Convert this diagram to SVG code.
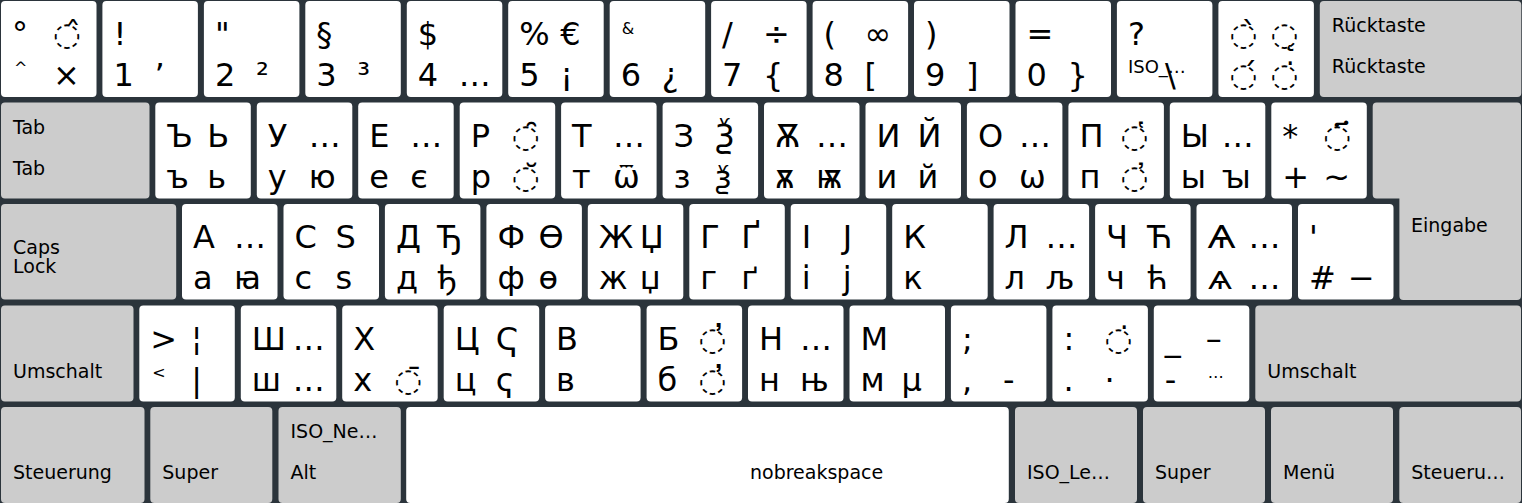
<svg xmlns="http://www.w3.org/2000/svg" width="1522" height="503" viewBox="0 0 1522 503">
<style>
.k{fill:#ffffff}
.m{fill:#cccccc}
text{font-family:"DejaVu Sans","Noto Sans",sans-serif;fill:#000000}
.g{font-size:32px}
.l{font-size:19px}
.t{font-size:16px}
.u{font-size:18px}
</style>
<rect x="0" y="0" width="1522" height="503" fill="#2b343b"/>
<g id="row1">
<g id="k-tlde" transform="translate(1,1)"><rect class="k" width="95.5" height="96" rx="4"/><text class="g" x="11" y="44">°</text><text class="g" x="52" y="44">&#x25CC;&#x302;</text><text class="t" x="13" y="72">^</text><text class="g" x="52" y="85">×</text></g>
<g id="k-1" transform="translate(102.4,1)"><rect class="k" width="95.5" height="96" rx="4"/><text class="g" x="11" y="44">!</text><text class="g" x="11" y="85">1</text><text class="g" x="52" y="85">’</text></g>
<g id="k-2" transform="translate(203.9,1)"><rect class="k" width="95.5" height="96" rx="4"/><text class="g" x="11" y="44">"</text><text class="g" x="11" y="85">2</text><text class="g" x="52" y="85">²</text></g>
<g id="k-3" transform="translate(305.3,1)"><rect class="k" width="95.5" height="96" rx="4"/><text class="g" x="11" y="44">§</text><text class="g" x="11" y="85">3</text><text class="g" x="52" y="85">³</text></g>
<g id="k-4" transform="translate(406.8,1)"><rect class="k" width="95.5" height="96" rx="4"/><text class="g" x="11" y="44">$</text><text class="g" x="11" y="85">4</text><text class="g" x="52" y="85">…</text></g>
<g id="k-5" transform="translate(508.2,1)"><rect class="k" width="95.5" height="96" rx="4"/><text class="g" x="11" y="44">%</text><text class="g" x="52" y="44">€</text><text class="g" x="11" y="85">5</text><text class="g" x="52" y="85">¡</text></g>
<g id="k-6" transform="translate(609.7,1)"><rect class="k" width="95.5" height="96" rx="4"/><text class="t" x="12" y="33">&amp;</text><text class="g" x="11" y="85">6</text><text class="g" x="52" y="85">¿</text></g>
<g id="k-7" transform="translate(711.1,1)"><rect class="k" width="95.5" height="96" rx="4"/><text class="g" x="11" y="44">/</text><text class="g" x="52" y="44">÷</text><text class="g" x="11" y="85">7</text><text class="g" x="52" y="85">{</text></g>
<g id="k-8" transform="translate(812.6,1)"><rect class="k" width="95.5" height="96" rx="4"/><text class="g" x="11" y="44">(</text><text class="g" x="52" y="44">∞</text><text class="g" x="11" y="85">8</text><text class="g" x="52" y="85">[</text></g>
<g id="k-9" transform="translate(914,1)"><rect class="k" width="95.5" height="96" rx="4"/><text class="g" x="11" y="44">)</text><text class="g" x="11" y="85">9</text><text class="g" x="52" y="85">]</text></g>
<g id="k-0" transform="translate(1015.5,1)"><rect class="k" width="95.5" height="96" rx="4"/><text class="g" x="11" y="44">=</text><text class="g" x="11" y="85">0</text><text class="g" x="52" y="85">}</text></g>
<g id="k-ss" transform="translate(1116.9,1)"><rect class="k" width="95.5" height="96" rx="4"/><text class="g" x="11" y="44">?</text><text class="u" x="11" y="72">ISO_…</text><text class="g" x="48" y="85">\</text></g>
<g id="k-acute" transform="translate(1218.4,1)"><rect class="k" width="95.5" height="96" rx="4"/><text class="g" x="11" y="44">&#x25CC;&#x300;</text><text class="g" x="52" y="44">&#x25CC;&#x328;</text><text class="g" x="11" y="85">&#x25CC;&#x301;</text><text class="g" x="52" y="85">&#x25CC;&#x307;</text></g>
<g id="k-bksp" transform="translate(1319.8,1)"><rect class="m" width="201.5" height="96" rx="4"/><text class="l" x="12" y="31">Rücktaste</text><text class="l" x="12" y="72">Rücktaste</text></g>
</g>
<g id="row2">
<g id="k-tab" transform="translate(1,102.5)"><rect class="m" width="148.5" height="96" rx="4"/><text class="l" x="12" y="31">Tab</text><text class="l" x="12" y="72">Tab</text></g>
<g id="k-q" transform="translate(155.3,102.5)"><rect class="k" width="95.5" height="96" rx="4"/><text class="g" x="11" y="44">Ъ</text><text class="g" x="52" y="44">Ь</text><text class="g" x="11" y="85">ъ</text><text class="g" x="52" y="85">ь</text></g>
<g id="k-w" transform="translate(256.8,102.5)"><rect class="k" width="95.5" height="96" rx="4"/><text class="g" x="11" y="44">У</text><text class="g" x="52" y="44">…</text><text class="g" x="11" y="85">у</text><text class="g" x="52" y="85">ю</text></g>
<g id="k-e" transform="translate(358.2,102.5)"><rect class="k" width="95.5" height="96" rx="4"/><text class="g" x="11" y="44">Е</text><text class="g" x="52" y="44">…</text><text class="g" x="11" y="85">е</text><text class="g" x="52" y="85">є</text></g>
<g id="k-r" transform="translate(459.7,102.5)"><rect class="k" width="95.5" height="96" rx="4"/><text class="g" x="11" y="44">Р</text><text class="g" x="52" y="44">&#x25CC;&#x311;</text><text class="g" x="11" y="85">р</text><text class="g" x="52" y="85">&#x25CC;&#x306;</text></g>
<g id="k-t" transform="translate(561.1,102.5)"><rect class="k" width="95.5" height="96" rx="4"/><text class="g" x="11" y="44">Т</text><text class="g" x="52" y="44">…</text><text class="g" x="11" y="85">т</text><text class="g" x="52" y="85">ѿ</text></g>
<g id="k-z" transform="translate(662.6,102.5)"><rect class="k" width="95.5" height="96" rx="4"/><text class="g" x="11" y="44">З</text><text class="g" x="52" y="44">Ѯ</text><text class="g" x="11" y="85">з</text><text class="g" x="52" y="85">ѯ</text></g>
<g id="k-u" transform="translate(764,102.5)"><rect class="k" width="95.5" height="96" rx="4"/><text class="g" x="11" y="44">Ѫ</text><text class="g" x="52" y="44">…</text><text class="g" x="11" y="85">ѫ</text><text class="g" x="52" y="85">ѭ</text></g>
<g id="k-i" transform="translate(865.5,102.5)"><rect class="k" width="95.5" height="96" rx="4"/><text class="g" x="11" y="44">И</text><text class="g" x="52" y="44">Й</text><text class="g" x="11" y="85">и</text><text class="g" x="52" y="85">й</text></g>
<g id="k-o" transform="translate(966.9,102.5)"><rect class="k" width="95.5" height="96" rx="4"/><text class="g" x="11" y="44">О</text><text class="g" x="52" y="44">…</text><text class="g" x="11" y="85">о</text><text class="g" x="52" y="85">ѡ</text></g>
<g id="k-p" transform="translate(1068.4,102.5)"><rect class="k" width="95.5" height="96" rx="4"/><text class="g" x="11" y="44">П</text><text class="g" x="52" y="44">&#x25CC;&#x485;</text><text class="g" x="11" y="85">п</text><text class="g" x="52" y="85">&#x25CC;&#x486;</text></g>
<g id="k-ue" transform="translate(1169.8,102.5)"><rect class="k" width="95.5" height="96" rx="4"/><text class="g" x="11" y="44">Ы</text><text class="g" x="52" y="44">…</text><text class="g" x="11" y="85">ы</text><text class="g" x="52" y="85">ꙑ</text></g>
<g id="k-plus" transform="translate(1271.3,102.5)"><rect class="k" width="95.5" height="96" rx="4"/><text class="g" x="11" y="44">*</text><text class="g" x="52" y="44">&#x25CC;&#x483;</text><text class="g" x="11" y="85">+</text><text class="g" x="52" y="85">~</text></g>
<g id="k-enter"><path class="m" d="M1376.7,102.5 H1517 A4,4 0 0 1 1521,106.5 V296 A4,4 0 0 1 1517,300 H1403.4 A4,4 0 0 1 1399.4,296 V198.5 H1376.7 A4,4 0 0 1 1372.7,194.5 V106.5 A4,4 0 0 1 1376.7,102.5 Z"/><text class="l" x="1411" y="232">Eingabe</text></g>
</g>
<g id="row3">
<g id="k-caps" transform="translate(1,204)"><rect class="m" width="175.2" height="95.5" rx="4"/><text class="l" x="12" y="50">Caps</text><text class="l" x="12" y="69">Lock</text></g>
<g id="k-a" transform="translate(182,204)"><rect class="k" width="95.5" height="95.5" rx="4"/><text class="g" x="11" y="44">А</text><text class="g" x="52" y="44">…</text><text class="g" x="11" y="85">а</text><text class="g" x="52" y="85">ꙗ</text></g>
<g id="k-s" transform="translate(283.5,204)"><rect class="k" width="95.5" height="95.5" rx="4"/><text class="g" x="11" y="44">С</text><text class="g" x="52" y="44">Ѕ</text><text class="g" x="11" y="85">с</text><text class="g" x="52" y="85">ѕ</text></g>
<g id="k-d" transform="translate(384.9,204)"><rect class="k" width="95.5" height="95.5" rx="4"/><text class="g" x="11" y="44">Д</text><text class="g" x="52" y="44">Ђ</text><text class="g" x="11" y="85">д</text><text class="g" x="52" y="85">ђ</text></g>
<g id="k-f" transform="translate(486.4,204)"><rect class="k" width="95.5" height="95.5" rx="4"/><text class="g" x="11" y="44">Ф</text><text class="g" x="52" y="44">Ѳ</text><text class="g" x="11" y="85">ф</text><text class="g" x="52" y="85">ѳ</text></g>
<g id="k-g" transform="translate(587.8,204)"><rect class="k" width="95.5" height="95.5" rx="4"/><text class="g" x="11" y="44">Ж</text><text class="g" x="52" y="44">Џ</text><text class="g" x="11" y="85">ж</text><text class="g" x="52" y="85">џ</text></g>
<g id="k-h" transform="translate(689.3,204)"><rect class="k" width="95.5" height="95.5" rx="4"/><text class="g" x="11" y="44">Г</text><text class="g" x="52" y="44">Ґ</text><text class="g" x="11" y="85">г</text><text class="g" x="52" y="85">ґ</text></g>
<g id="k-j" transform="translate(790.7,204)"><rect class="k" width="95.5" height="95.5" rx="4"/><text class="g" x="11" y="44">І</text><text class="g" x="52" y="44">Ј</text><text class="g" x="11" y="85">і</text><text class="g" x="52" y="85">ј</text></g>
<g id="k-k" transform="translate(892.2,204)"><rect class="k" width="95.5" height="95.5" rx="4"/><text class="g" x="11" y="44">К</text><text class="g" x="11" y="85">к</text></g>
<g id="k-l" transform="translate(993.6,204)"><rect class="k" width="95.5" height="95.5" rx="4"/><text class="g" x="11" y="44">Л</text><text class="g" x="52" y="44">…</text><text class="g" x="11" y="85">л</text><text class="g" x="52" y="85">љ</text></g>
<g id="k-oe" transform="translate(1095.1,204)"><rect class="k" width="95.5" height="95.5" rx="4"/><text class="g" x="11" y="44">Ч</text><text class="g" x="52" y="44">Ћ</text><text class="g" x="11" y="85">ч</text><text class="g" x="52" y="85">ћ</text></g>
<g id="k-ae" transform="translate(1196.5,204)"><rect class="k" width="95.5" height="95.5" rx="4"/><text class="g" x="11" y="44">Ѧ</text><text class="g" x="52" y="44">…</text><text class="g" x="11" y="85">ѧ</text><text class="g" x="52" y="85">…</text></g>
<g id="k-hash" transform="translate(1298,204)"><rect class="k" width="95.5" height="95.5" rx="4"/><text class="g" x="11" y="44">'</text><text class="g" x="11" y="85">#</text><text class="g" x="50" y="85">−</text></g>
</g>
<g id="row4">
<g id="k-lshift" transform="translate(1,305.5)"><rect class="m" width="132.5" height="96" rx="4"/><text class="l" x="12" y="72">Umschalt</text></g>
<g id="k-lsgt" transform="translate(139.3,305.5)"><rect class="k" width="95.5" height="96" rx="4"/><text class="g" x="11" y="44">&gt;</text><text class="g" x="52" y="44">¦</text><text class="t" x="13" y="72">&lt;</text><text class="g" x="52" y="85">|</text></g>
<g id="k-y" transform="translate(240.8,305.5)"><rect class="k" width="95.5" height="96" rx="4"/><text class="g" x="11" y="44">Ш</text><text class="g" x="52" y="44">…</text><text class="g" x="11" y="85">ш</text><text class="g" x="52" y="85">…</text></g>
<g id="k-x" transform="translate(342.2,305.5)"><rect class="k" width="95.5" height="96" rx="4"/><text class="g" x="11" y="44">Х</text><text class="g" x="11" y="85">х</text><text class="g" x="52" y="85">&#x25CC;&#x304;</text></g>
<g id="k-c" transform="translate(443.7,305.5)"><rect class="k" width="95.5" height="96" rx="4"/><text class="g" x="11" y="44">Ц</text><text class="g" x="52" y="44">Ҁ</text><text class="g" x="11" y="85">ц</text><text class="g" x="52" y="85">ҁ</text></g>
<g id="k-v" transform="translate(545.1,305.5)"><rect class="k" width="95.5" height="96" rx="4"/><text class="g" x="11" y="44">В</text><text class="g" x="11" y="85">в</text></g>
<g id="k-b" transform="translate(646.6,305.5)"><rect class="k" width="95.5" height="96" rx="4"/><text class="g" x="11" y="44">Б</text><text class="g" x="52" y="44">&#x25CC;&#x313;</text><text class="g" x="11" y="85">б</text><text class="g" x="52" y="85">&#x25CC;&#x313;</text></g>
<g id="k-n" transform="translate(748,305.5)"><rect class="k" width="95.5" height="96" rx="4"/><text class="g" x="11" y="44">Н</text><text class="g" x="52" y="44">…</text><text class="g" x="11" y="85">н</text><text class="g" x="52" y="85">њ</text></g>
<g id="k-m" transform="translate(849.5,305.5)"><rect class="k" width="95.5" height="96" rx="4"/><text class="g" x="11" y="44">М</text><text class="g" x="11" y="85">м</text><text class="g" x="52" y="85">µ</text></g>
<g id="k-comma" transform="translate(950.9,305.5)"><rect class="k" width="95.5" height="96" rx="4"/><text class="g" x="11" y="44">;</text><text class="g" x="11" y="85">,</text><text class="g" x="52" y="85">-</text></g>
<g id="k-period" transform="translate(1052.4,305.5)"><rect class="k" width="95.5" height="96" rx="4"/><text class="g" x="11" y="44">:</text><text class="g" x="52" y="44">&#x25CC;&#x307;</text><text class="g" x="11" y="85">.</text><text class="g" x="52" y="85">·</text></g>
<g id="k-minus" transform="translate(1153.8,305.5)"><rect class="k" width="95.5" height="96" rx="4"/><text class="g" x="11" y="44">_</text><text class="g" x="52" y="44">–</text><text class="g" x="11" y="85">-</text><text class="t" x="54" y="72">…</text></g>
<g id="k-rshift" transform="translate(1255.3,305.5)"><rect class="m" width="265.7" height="96" rx="4"/><text class="l" x="12" y="72">Umschalt</text></g>
</g>
<g id="row5">
<g id="k-lctrl" transform="translate(1,407)"><rect class="m" width="143.5" height="96" rx="4"/><text class="l" x="12" y="72">Steuerung</text></g>
<g id="k-lwin" transform="translate(150.3,407)"><rect class="m" width="122" height="96" rx="4"/><text class="l" x="12" y="72">Super</text></g>
<g id="k-lalt" transform="translate(278.5,407)"><rect class="m" width="122.3" height="96" rx="4"/><text class="l" x="12" y="31">ISO_Ne…</text><text class="l" x="12" y="72">Alt</text></g>
<g id="k-space" transform="translate(406.2,407)"><rect class="k" width="602.6" height="96" rx="4"/><text class="l" x="343.8" y="72">nobreakspace</text></g>
<g id="k-ralt" transform="translate(1015,407)"><rect class="m" width="122" height="96" rx="4"/><text class="l" x="12" y="72">ISO_Le…</text></g>
<g id="k-rwin" transform="translate(1143,407)"><rect class="m" width="122" height="96" rx="4"/><text class="l" x="12" y="72">Super</text></g>
<g id="k-menu" transform="translate(1271,407)"><rect class="m" width="122" height="96" rx="4"/><text class="l" x="12" y="72">Menü</text></g>
<g id="k-rctrl" transform="translate(1399.3,407)"><rect class="m" width="121.7" height="96" rx="4"/><text class="l" x="12" y="72">Steueru…</text></g>
</g>
<g id="connectors"/>
</svg>
